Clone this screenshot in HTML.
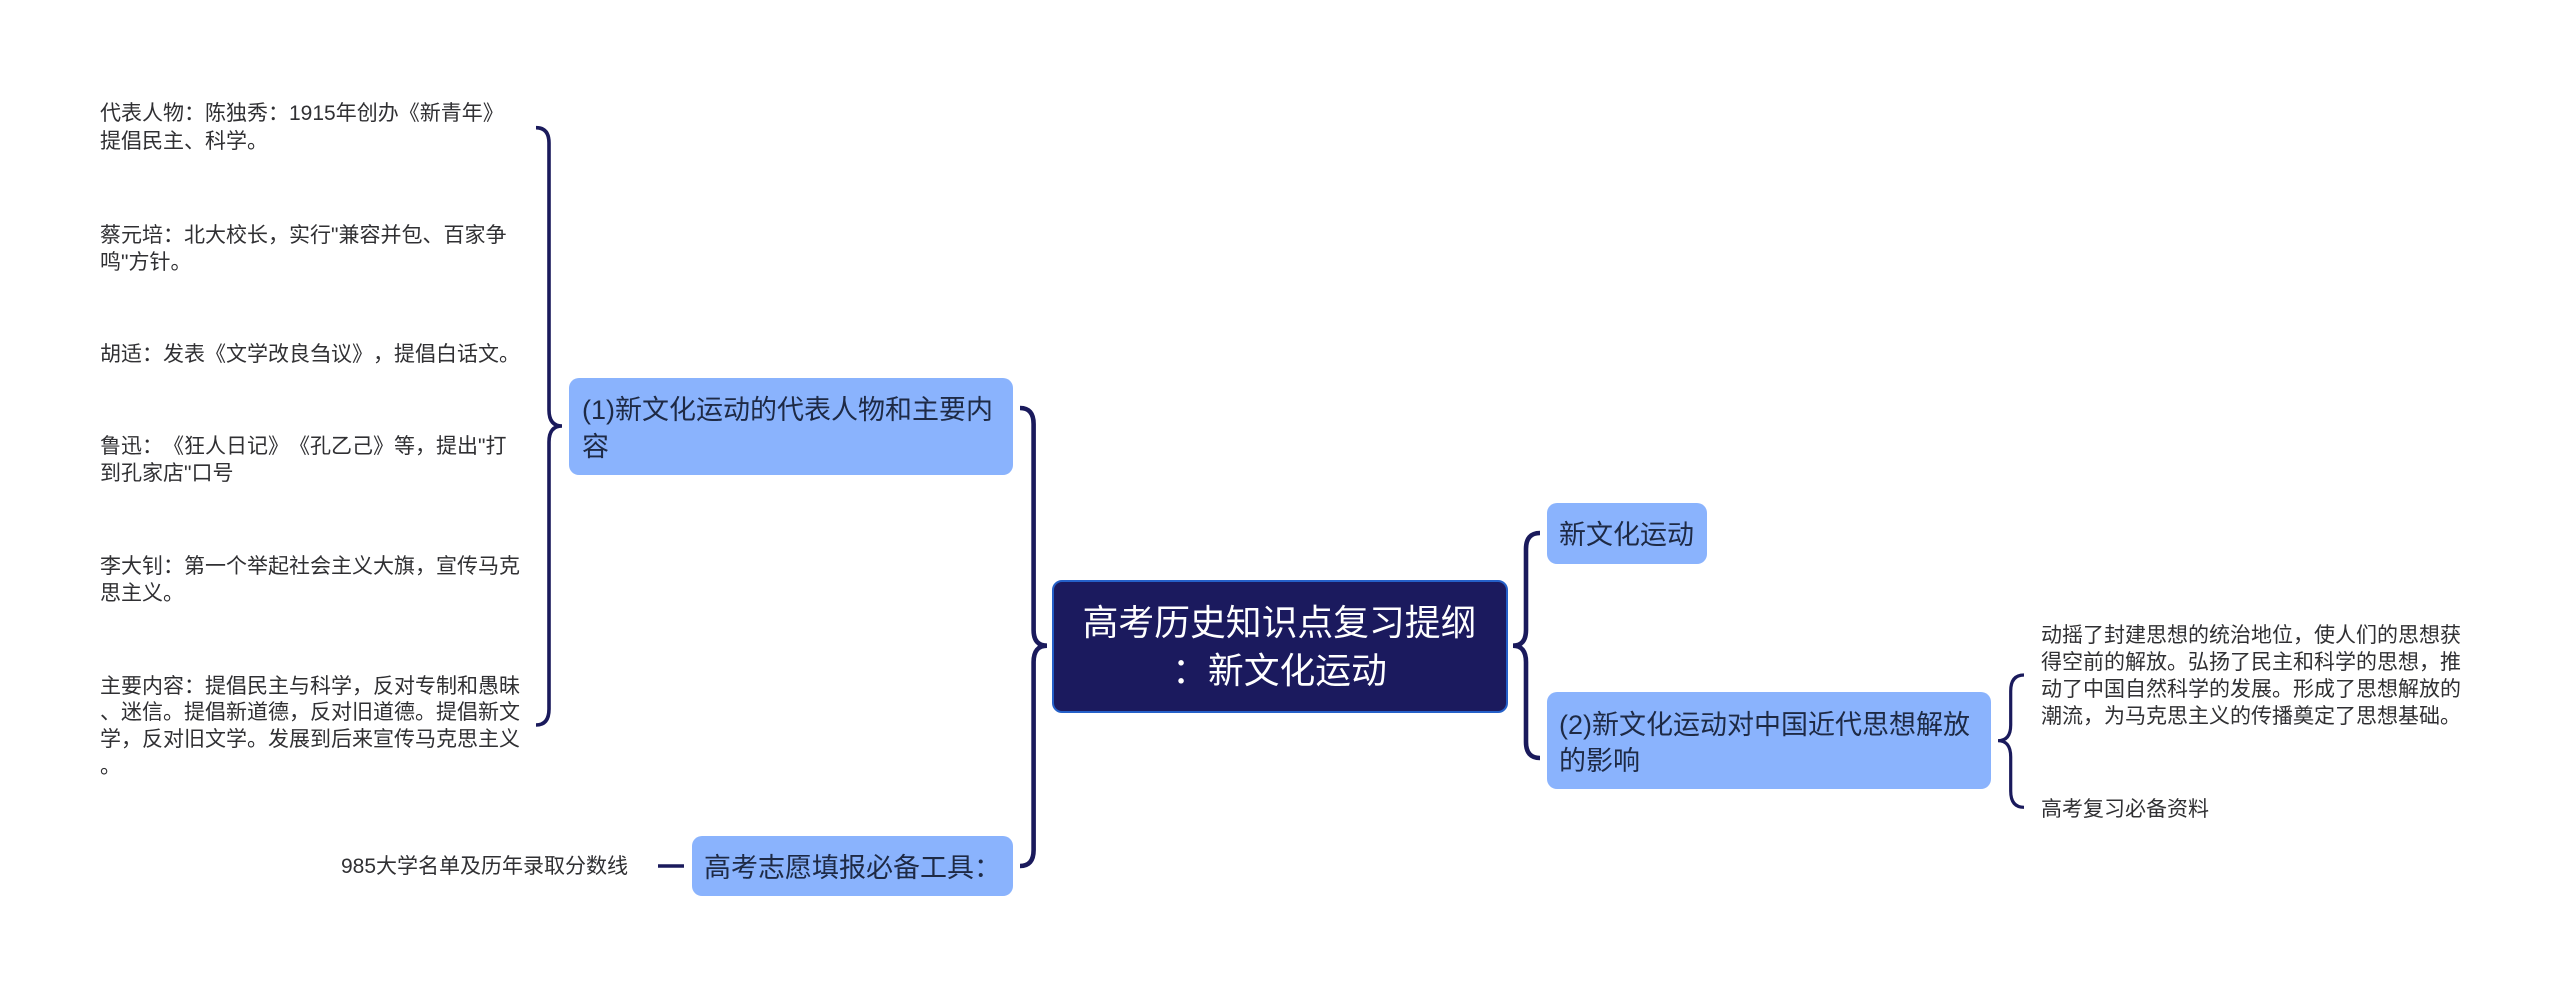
<!DOCTYPE html>
<html lang="zh-CN"><head><meta charset="utf-8"><title>高考历史知识点复习提纲：新文化运动</title>
<style>
html,body{margin:0;padding:0;background:#fff}
#p{position:relative;width:2560px;height:987px;overflow:hidden;background:#fff;font-family:"Liberation Sans","Noto Sans CJK SC",sans-serif;text-spacing-trim:space-all;font-kerning:none}
svg{position:absolute;left:0;top:0}
.b{position:absolute;box-sizing:border-box;background:#8ab3fd;border-radius:10px}
.t{position:absolute;white-space:nowrap;font-size:21px;line-height:28px;height:28px;color:#303033;margin-top:1px}
.n{position:absolute;white-space:nowrap;font-size:27px;line-height:36px;height:36px;color:#1e2a45;margin-top:1.5px}
.r{position:absolute;white-space:nowrap;font-size:35.8px;line-height:48px;height:48px;color:#fff;left:1052px;width:455px;text-align:center;margin-top:1px}
</style></head><body><div id="p">
<svg width="2560" height="987" fill="none" stroke="#1a1a5c" stroke-linecap="butt">
<path stroke-width="3.6" d="M536,127.7 Q549,127.7 549,143 L549,410 Q549,426 562,426 Q549,426 549,442 L549,709 Q549,725 536,725"/>
<path stroke-width="4.6" d="M1020,408 Q1033.6,408 1033.6,424 L1033.6,630 Q1033.6,645.7 1047,645.7 Q1033.6,645.7 1033.6,662 L1033.6,850 Q1033.6,866 1020,866"/>
<path stroke-width="4.6" d="M1540,533 Q1526,533 1526,549 L1526,630 Q1526,645.7 1513,645.7 Q1526,645.7 1526,662 L1526,742 Q1526,758 1540,758"/>
<path stroke-width="3.2" d="M2024,675 Q2010.7,675 2010.7,691 L2010.7,725 Q2010.7,740.7 1998,740.7 Q2010.7,740.7 2010.7,757 L2010.7,791 Q2010.7,807.3 2024,807.3"/>
<path stroke-width="3.4" d="M658,866 L684,866"/>
</svg>
<div class="b" style="left:569px;top:378px;width:444px;height:97px"></div>
<div class="b" style="left:692px;top:836px;width:321px;height:60px"></div>
<div class="b" style="left:1547px;top:503px;width:160px;height:61px"></div>
<div class="b" style="left:1547px;top:692px;width:444px;height:97px"></div>
<div class="b" style="left:1052px;top:580px;width:456px;height:133px;background:#1b1a5e;border:2px solid #2560c8"></div>

<div class="r" style="top:598px">高考历史知识点复习提纲</div>
<div class="r" style="top:646px">：新文化运动</div>

<div class="n" style="left:582px;top:390px">(1)新文化运动的代表人物和主要内</div>
<div class="n" style="left:582px;top:427px">容</div>
<div class="n" style="left:704px;top:848px">高考志愿填报必备工具：</div>
<div class="n" style="left:1559px;top:515px">新文化运动</div>
<div class="n" style="left:1559px;top:705px">(2)新文化运动对中国近代思想解放</div>
<div class="n" style="left:1559px;top:741px">的影响</div>

<div class="t" style="left:100px;top:99px">代表人物：陈独秀：1915年创办《新青年》</div>
<div class="t" style="left:100px;top:127px">提倡民主、科学。</div>
<div class="t" style="left:100px;top:221px">蔡元培：北大校长，实行"兼容并包、百家争</div>
<div class="t" style="left:100px;top:248px">鸣"方针。</div>
<div class="t" style="left:100px;top:340px">胡适：发表《文学改良刍议》，提倡白话文。</div>
<div class="t" style="left:100px;top:432px">鲁迅：《狂人日记》《孔乙己》等，提出"打</div>
<div class="t" style="left:100px;top:459px">到孔家店"口号</div>
<div class="t" style="left:100px;top:552px">李大钊：第一个举起社会主义大旗，宣传马克</div>
<div class="t" style="left:100px;top:579px">思主义。</div>
<div class="t" style="left:100px;top:672px">主要内容：提倡民主与科学，反对专制和愚昧</div>
<div class="t" style="left:100px;top:698px">、迷信。提倡新道德，反对旧道德。提倡新文</div>
<div class="t" style="left:100px;top:725px">学，反对旧文学。发展到后来宣传马克思主义</div>
<div class="t" style="left:100px;top:752px">。</div>
<div class="t" style="left:341px;top:852px">985大学名单及历年录取分数线</div>

<div class="t" style="left:2041px;top:621px">动摇了封建思想的统治地位，使人们的思想获</div>
<div class="t" style="left:2041px;top:648px">得空前的解放。弘扬了民主和科学的思想，推</div>
<div class="t" style="left:2041px;top:675px">动了中国自然科学的发展。形成了思想解放的</div>
<div class="t" style="left:2041px;top:702px">潮流，为马克思主义的传播奠定了思想基础。</div>
<div class="t" style="left:2041px;top:795px">高考复习必备资料</div>
</div></body></html>
